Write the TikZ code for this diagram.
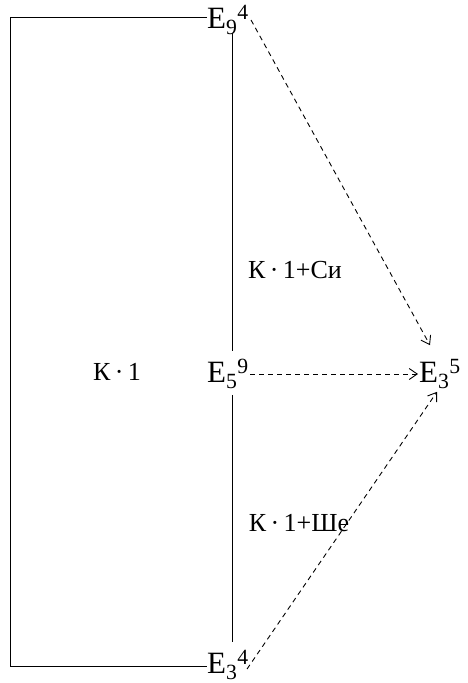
\documentclass[tikz,border=0pt]{standalone}
\usepackage{fontspec}
\setmainfont{Liberation Serif}
\usetikzlibrary{arrows.meta}
\tikzset{
  lbl/.style={font=\fontsize{26}{30}\selectfont, inner sep=0pt},
  pt/.style={font=\fontsize{31}{34}\selectfont, inner sep=0pt, anchor=west},
  conn/.style={line width=0.95pt},
  flow/.style={-{Straight Barb[length=8pt, width=11pt]}, dashed, line width=0.9pt, dash pattern=on 5pt off 4pt}
}
\begin{document}
\begin{tikzpicture}[x=1pt, y=-1pt]
        \useasboundingbox (0,0) rectangle (467,683);
        % Nodes
        \node (e94) [pt] at (207,20) {E\textsubscript{9}\textsuperscript{4}};
        \node (e59) [pt] at (207,374) {E\textsubscript{5}\textsuperscript{9}};
        \node (e34) [pt] at (207,665) {E\textsubscript{3}\textsuperscript{4}};
        \node (e35) [pt] at (419,374) {E\textsubscript{3}\textsuperscript{5}};
        \node (k1) [lbl] at (117,372) {К\,·\,1};
        \node (k1si) [lbl] at (295,270) {К\,·\,1+Си};
        \node (k1she) [lbl] at (299,523) {К\,·\,1+Ше};
        \coordinate (tl) at (10,17);
        \coordinate (bl) at (10,666);

        % Lines
        \draw[conn] (e94.west |- tl) -- (tl) -- (bl) -- (e34.west |- bl);
        \draw[conn] ([xshift=25pt]e94.south west) ++(0,-2) -- ([xshift=25pt,yshift=8pt]e59.north west);
        \draw[conn] ([xshift=25pt,yshift=-6pt]e59.south west) -- ([xshift=25pt,yshift=8pt]e34.north west);

        % Arrows
        \draw[flow] ([xshift=2pt,yshift=0pt]e94.east) -- ([xshift=11pt,yshift=14pt]e35.north west);
        \draw[flow] ([xshift=1pt]e59.east) -- ([xshift=-1pt]e35.west);
        \draw[flow] ([xshift=-2pt,yshift=-4pt]e34.east) -- ([xshift=18pt,yshift=-3pt]e35.south west);
\end{tikzpicture}
\end{document}
